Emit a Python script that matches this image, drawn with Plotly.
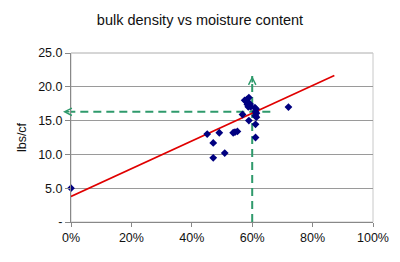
import plotly.graph_objects as go

# data
moisture = [0.0, 0.451, 0.471, 0.471, 0.491, 0.509, 0.537, 0.543, 0.551, 0.568,
            0.575, 0.582, 0.589, 0.586, 0.593, 0.595, 0.587, 0.580, 0.584, 0.589,
            0.609, 0.613, 0.611, 0.614, 0.610, 0.614, 0.611, 0.611, 0.720]
density = [5.0, 13.0, 11.7, 9.5, 13.2, 10.2, 13.2, 13.3, 13.4, 15.9,
           18.0, 18.1, 18.4, 17.7, 17.45, 17.05, 17.05, 17.9, 17.4, 15.0,
           16.9, 16.7, 16.3, 16.1, 15.7, 15.5, 14.45, 12.5, 17.0]

trend_x = [0.0, 0.872]
trend_y = [3.78, 21.68]

target_x = 0.60          # vertical reference (moisture)
target_y = 16.3          # horizontal reference (density)
h_line_end_x = 0.66
v_line_top_y = 21.6

x_ticks = [0, 0.2, 0.4, 0.6, 0.8, 1.0]
y_ticks = [0, 5, 10, 15, 20, 25]
y_ticktext = ["-", "5.0", "10.0", "15.0", "20.0", "25.0"]

GREEN = "#2f9a6c"
FONT = "Liberation Sans, Arial, sans-serif"

fig = go.Figure()

# reference dashed lines
fig.add_trace(go.Scatter(x=[h_line_end_x, 0.0], y=[target_y, target_y], mode="lines",
                         line=dict(color=GREEN, width=2, dash="8px,5px"),
                         hoverinfo="skip", showlegend=False))
fig.add_trace(go.Scatter(x=[target_x, target_x], y=[0, v_line_top_y], mode="lines",
                         line=dict(color=GREEN, width=2, dash="8px,5px"),
                         hoverinfo="skip", showlegend=False))

# trend line
fig.add_trace(go.Scatter(x=trend_x, y=trend_y, mode="lines",
                         line=dict(color="#e00000", width=1.6),
                         showlegend=False))

# data points
fig.add_trace(go.Scatter(x=moisture, y=density, mode="markers", cliponaxis=False,
                         marker=dict(symbol="diamond", size=6, color="#000080"),
                         showlegend=False))

fig.add_annotation(x=0.0, y=target_y, xref="x", yref="y", text="",
                   showarrow=True, arrowhead=5, arrowsize=0.9, arrowwidth=1.6,
                   arrowcolor=GREEN, ax=8, ay=0, xshift=-8)
fig.add_annotation(x=target_x, y=v_line_top_y, xref="x", yref="y", text="",
                   showarrow=True, arrowhead=5, arrowsize=0.9, arrowwidth=1.6,
                   arrowcolor=GREEN, ax=0, ay=8)

fig.add_shape(type="rect", xref="paper", yref="paper", x0=0, x1=1, y0=0, y1=1,
              line=dict(color="#c8c8c8", width=1), layer="below")
fig.add_shape(type="line", xref="paper", yref="paper", x0=0, x1=1, y0=1, y1=1,
              line=dict(color="#c8c8c8", width=1), layer="above")

fig.update_layout(
    width=400, height=262,
    margin=dict(l=71, r=27, t=53, b=40),
    paper_bgcolor="white", plot_bgcolor="white",
    font=dict(family=FONT, size=12, color="#111"),
    title=dict(text="bulk density vs moisture content", x=0.5, xref="container",
               y=1 - 20 / 262, yref="container", yanchor="middle",
               font=dict(size=14.5, color="#111")),
)
fig.update_xaxes(range=[0, 1], tickvals=x_ticks, tickformat=".0%",
                 showgrid=False, zeroline=False, showline=True, linecolor="#888",
                 ticks="outside", ticklen=4, tickcolor="#888",
                 tickfont=dict(size=12.5))
fig.update_yaxes(range=[0, 25], tickvals=y_ticks, ticktext=y_ticktext,
                 showgrid=True, gridcolor="#9a9a9a", gridwidth=1, zeroline=False,
                 showline=True, linecolor="#888", ticks="outside", ticklen=5,
                 tickcolor="#888", tickfont=dict(size=12.5),
                 title=dict(text="lbs/cf", font=dict(size=12.5), standoff=8))

fig.write_html("out.html")
